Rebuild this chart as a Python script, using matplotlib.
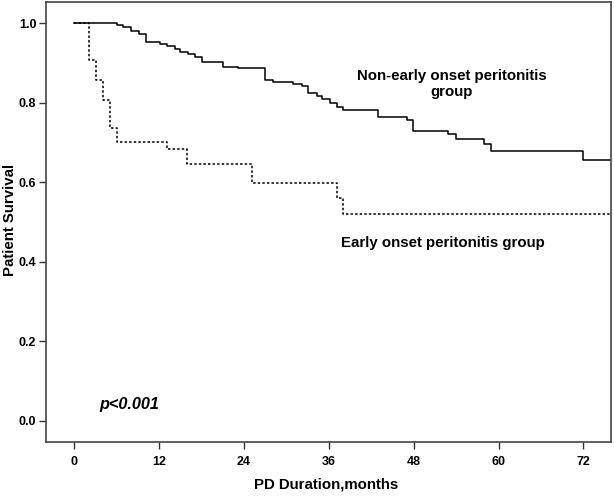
import matplotlib
matplotlib.use("Agg")
import matplotlib.pyplot as plt

plt.rcParams['font.family'] = ['Liberation Sans', 'DejaVu Sans']

# Kaplan-Meier steps (months, survival)
non_early_t = [0, 6.0, 6.9, 8.0, 9.1, 10.1, 12.1, 13.1, 14.2, 15.0, 16.1, 17.1,
               18.0, 21.1, 23.2, 27.0, 28.1, 31.0, 32.2, 33.1, 34.3, 35.0, 36.2,
               37.1, 38.0, 43.0, 47.0, 47.9, 52.9, 54.0, 58.0, 59.0, 72.0, 76.0]
non_early_s = [1.0, 0.995, 0.990, 0.981, 0.973, 0.952, 0.947, 0.943, 0.935, 0.928,
               0.922, 0.915, 0.903, 0.891, 0.887, 0.856, 0.852, 0.846, 0.841, 0.824,
               0.817, 0.809, 0.799, 0.790, 0.782, 0.765, 0.757, 0.730, 0.721, 0.708,
               0.696, 0.679, 0.655, 0.655]

early_t = [0, 2.1, 3.1, 4.0, 5.05, 6.1, 13.1, 16.0, 25.1, 37.1, 38.0, 76.0]
early_s = [1.0, 0.908, 0.857, 0.807, 0.736, 0.701, 0.684, 0.646, 0.597, 0.560,
           0.520, 0.520]

x_ticks = [0, 12, 24, 36, 48, 60, 72]
y_ticks = [0.0, 0.2, 0.4, 0.6, 0.8, 1.0]

fig = plt.figure(figsize=(6.14, 4.96), dpi=100)
ax = fig.add_axes([0.0749, 0.1083, 0.9202, 0.8883])

ax.step(non_early_t, non_early_s, where='post', color='black', lw=1.1)
ax.step(early_t, early_s, where='post', color='black', lw=1.1,
        linestyle=(0, (1.6, 1.4)))

ax.set_xlim(-4.0, 75.9)
ax.set_ylim(-0.054, 1.054)
ax.set_xticks(x_ticks)
ax.set_yticks(y_ticks)
ax.set_xticklabels([str(v) for v in x_ticks], fontweight='bold', fontsize=9)
ax.set_yticklabels(['%.1f' % v for v in y_ticks], fontweight='bold', fontsize=9)
ax.tick_params(direction='out', length=5, width=1, color='#333333')
ax.tick_params(axis='x', pad=5)
ax.tick_params(axis='y', pad=2)

for sp in ax.spines.values():
    sp.set_color('#444444')
    sp.set_linewidth(1.2)

ax.set_xlabel('PD Duration,months', fontweight='bold', fontsize=10.8)
ax.set_ylabel('Patient Survival', fontweight='bold', fontsize=10.8)
ax.xaxis.set_label_coords(0.496, -0.081)
ax.yaxis.set_label_coords(-0.052, 0.505)

ax.text(53.4, 0.847, 'Non-early onset peritonitis\ngroup', ha='center', va='center',
        fontweight='bold', fontsize=10.8, linespacing=1.2)
ax.text(52.1, 0.446, 'Early onset peritonitis group', ha='center', va='center',
        fontweight='bold', fontsize=10.8)
ax.text(3.6, 0.04, 'p<0.001', ha='left', va='center', fontweight='bold',
        fontstyle='italic', fontsize=11.7)

fig.savefig('out.png', dpi=100)
